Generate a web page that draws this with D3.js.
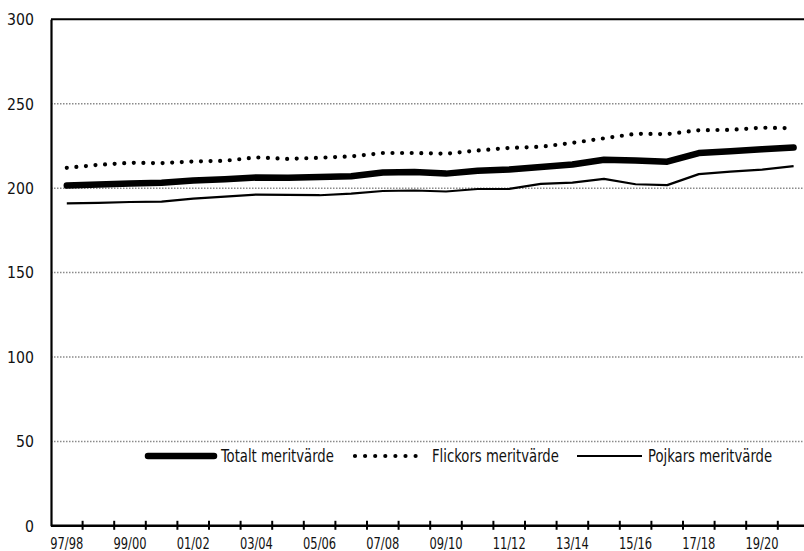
<!DOCTYPE html>
<html><head><meta charset="utf-8">
<script src="https://cdn.jsdelivr.net/npm/d3@7"></script>
<style>
html,body{margin:0;padding:0;background:#fff;overflow:hidden;}
text{font-family:"DejaVu Sans Condensed","DejaVu Sans",sans-serif;font-stretch:condensed;fill:#111;}
</style></head><body>
<svg id="chart" width="804" height="551"></svg>
<script>
const years = ["97/98","98/99","99/00","00/01","01/02","02/03","03/04","04/05","05/06","06/07","07/08","08/09","09/10","10/11","11/12","12/13","13/14","14/15","15/16","16/17","17/18","18/19","19/20","20/21"];
const totalt  = [201.5,202.2,202.8,203.2,204.5,205.3,206.3,206.2,206.6,207.0,209.3,209.5,208.6,210.3,211.0,212.5,214.0,216.8,216.3,215.7,220.8,221.8,223.0,224.0];
const flickor = [212.0,213.8,215.0,214.8,215.8,216.2,218.2,217.3,218.0,218.8,220.8,220.8,220.4,222.3,223.8,224.5,226.8,229.5,232.2,232.0,234.3,234.5,235.8,235.5];
const pojkar  = [191.0,191.3,191.8,192.0,193.8,195.0,196.2,196.0,195.8,196.7,198.3,198.6,198.0,199.5,199.6,202.5,203.3,205.5,202.3,201.8,208.3,209.8,211.0,213.0];
const yTicks = [0,50,100,150,200,250,300];
const seriesNames = ["Totalt meritvärde","Flickors meritvärde","Pojkars meritvärde"];

(function(){
const svg = d3.select("#chart");
const mLeft = 51, mRight = 809.4, mTop = 19.3, mBottom = 525.8;
const x = d3.scaleBand().domain(years).range([mLeft, mRight]).padding(0);
const y = d3.scaleLinear().domain([0,300]).range([mBottom, mTop]);

// gridlines
svg.append("g").selectAll("line").data(yTicks.filter(d=>d>0 && d<300)).join("line")
  .attr("x1", mLeft).attr("x2", 804).attr("y1", d=>y(d)).attr("y2", d=>y(d))
  .attr("stroke", "#8a8a8a").attr("stroke-width", 1.5).attr("stroke-dasharray", "1.5,1.5");

// top border
svg.append("line").attr("x1", mLeft).attr("x2", 804).attr("y1", y(300)).attr("y2", y(300))
  .attr("stroke", "#000").attr("stroke-width", 2);

// y axis
const ySx = 0.95, yPad = 17;
const yAxis = svg.append("g").attr("transform", `translate(${mLeft},0)`)
  .call(d3.axisLeft(y).tickValues(yTicks).tickSize(0).tickPadding(yPad));
yAxis.select(".domain").attr("stroke", "#000").attr("stroke-width", 2.2);
yAxis.selectAll("text").style("font-size", "16.5px").attr("font-family", null).attr("fill", "#111")
  .attr("x", -yPad / ySx).attr("transform", `scale(${ySx},1)`);

// x axis
const xSx = 0.85;
const xAxis = svg.append("g").attr("transform", `translate(0,${mBottom})`)
  .call(d3.axisBottom(x).tickSize(0).tickPadding(14).tickFormat((d,i)=> i%2===0 ? d : ""));
xAxis.select(".domain").remove();
xAxis.selectAll("text").style("font-size", "15px").attr("font-family", null).attr("fill", "#111")
  .attr("y", 23.2).attr("dy", 0).attr("transform", `scale(${xSx},1)`);
svg.append("line").attr("x1", mLeft).attr("x2", 804).attr("y1", mBottom).attr("y2", mBottom)
  .attr("stroke", "#000").attr("stroke-width", 2.5);
svg.append("g").selectAll("line").data(years.slice(1)).join("line")
  .attr("x1", d=>x(d)).attr("x2", d=>x(d)).attr("y1", mBottom-5).attr("y2", mBottom+4)
  .attr("stroke", "#000").attr("stroke-width", 2);

const line = d3.line().x((d,i)=>x(years[i]) + x.bandwidth()/2).y(d=>y(d));

svg.append("path").datum(flickor).attr("d", line).attr("fill","none")
  .attr("stroke","#000").attr("stroke-width",4.2).attr("stroke-linecap","round")
  .attr("stroke-dasharray","0,9.6");
svg.append("path").datum(pojkar).attr("d", line).attr("fill","none")
  .attr("stroke","#000").attr("stroke-width",2.2).attr("stroke-linejoin","round");
svg.append("path").datum(totalt).attr("d", line).attr("fill","none")
  .attr("stroke","#000").attr("stroke-width",6.5).attr("stroke-linecap","round").attr("stroke-linejoin","round");

// legend
const ly = 456, lSx = 0.865;
const leg = svg.append("g");
function legText(xp, s){
  leg.append("text").attr("transform", `translate(${xp},${ly}) scale(${lSx},1)`)
    .attr("dy","0.36em").style("font-size","17px").text(s);
}
leg.append("line").attr("x1",148).attr("x2",214).attr("y1",ly).attr("y2",ly)
  .attr("stroke","#000").attr("stroke-width",6.5).attr("stroke-linecap","round");
legText(221, seriesNames[0]);
leg.append("line").attr("x1",355).attr("x2",416).attr("y1",ly).attr("y2",ly)
  .attr("stroke","#000").attr("stroke-width",4.2).attr("stroke-linecap","round").attr("stroke-dasharray","0,10.1");
legText(432, seriesNames[1]);
leg.append("line").attr("x1",577).attr("x2",642).attr("y1",ly).attr("y2",ly)
  .attr("stroke","#000").attr("stroke-width",2.2);
legText(648, seriesNames[2]);
})();
</script>
</body></html>
